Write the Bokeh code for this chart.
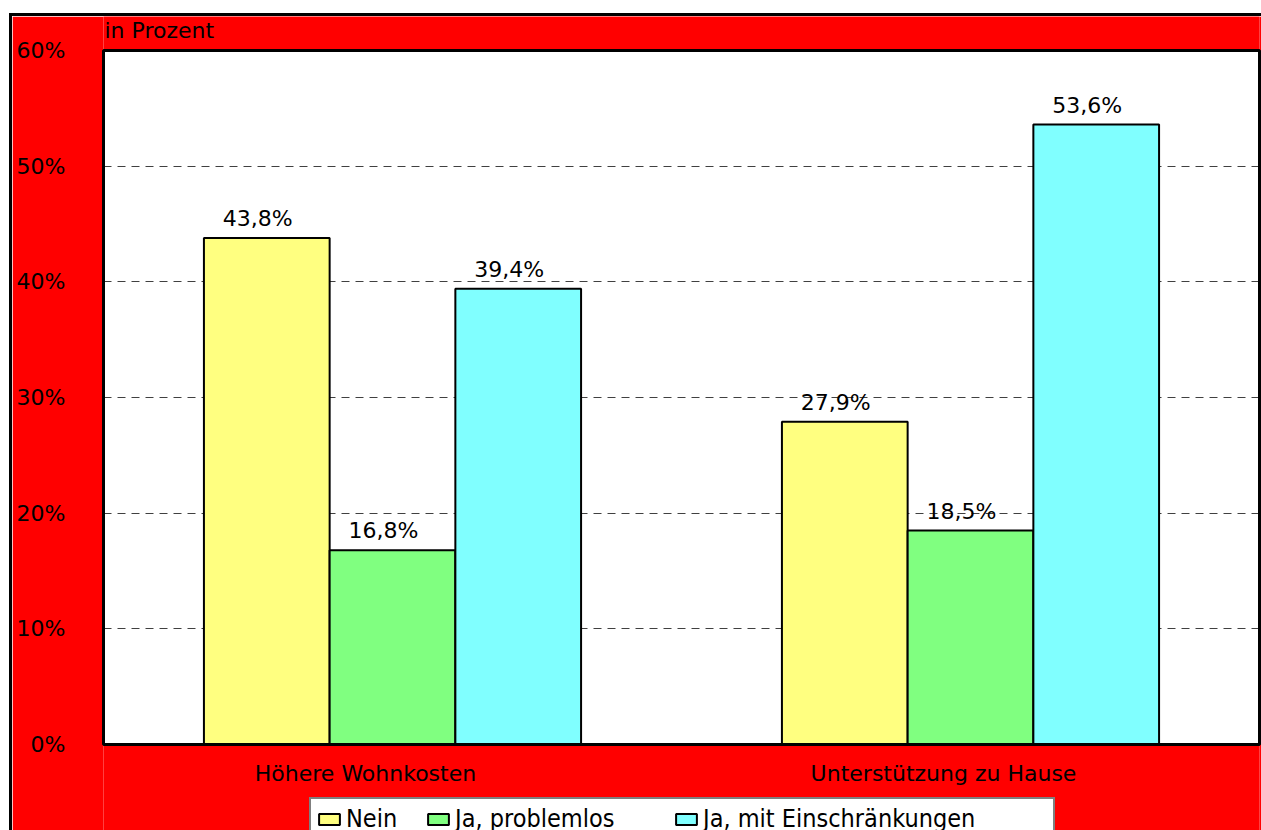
from bokeh.plotting import figure
from bokeh.models import (ColumnDataSource, FactorRange, Range1d, FixedTicker, Legend,
                          LegendItem)
from bokeh.transform import dodge
from bokeh.embed import file_html
from bokeh.resources import INLINE
from bokeh.core.properties import value

# ---- data ----
categories = ["Höhere Wohnkosten", "Unterstützung zu Hause"]
series = ["Nein", "Ja, problemlos", "Ja, mit Einschränkungen"]
nein = [43.8, 27.9]
ja_problemlos = [16.8, 18.5]
ja_einschraenkungen = [39.4, 53.6]
y_ticks = [0, 10, 20, 30, 40, 50, 60]
y_tick_labels = ["0%", "10%", "20%", "30%", "40%", "50%", "60%"]
unit_label = "in Prozent"
colors = ["#FFFF80", "#80FF80", "#80FFFF"]

FONT = "DejaVu Sans"
LEG_FONT = "DejaVu Sans Condensed"
fmt = lambda v: f"{v:.1f}%".replace(".", ",")

src = ColumnDataSource(dict(
    cat=categories,
    zero=[0, 0],
    nein=nein, ja_p=ja_problemlos, ja_e=ja_einschraenkungen,
    nein_lbl=[fmt(v) for v in nein],
    ja_p_lbl=[fmt(v) for v in ja_problemlos],
    ja_e_lbl=[fmt(v) for v in ja_einschraenkungen],
))

# plot area: 694 px for 0..60 %, a 34 px band above and an 86 px band below
PLOT_H, TOP_H, BAND_H = 694, 34, 86
y_max = y_ticks[-1]
y_lo = -BAND_H * y_max / PLOT_H
y_hi = y_max + TOP_H * y_max / PLOT_H
n_cat = len(categories)

p = figure(frame_width=1156, frame_height=PLOT_H + TOP_H + BAND_H,
           x_range=FactorRange(*categories, range_padding=0),
           y_range=Range1d(y_lo, y_hi), output_backend="svg", toolbar_location=None,
           min_border_left=91, min_border_top=0, min_border_right=2, min_border_bottom=0,
           background_fill_color="#FF0000", border_fill_color="#FF0000")
p.margin = (13, 0, 0, 9)
p.styles = {"border-top": "3px solid black", "border-left": "3px solid black"}
p.outline_line_color = None

# white plot area (0..60 %) with its black frame
p.quad(left=0, right=n_cat, bottom=0, top=y_max, fill_color="white", line_color=None,
       level="image")
p.quad(left=0, right=n_cat, bottom=0, top=y_max, fill_color=None, line_color="black",
       line_width=3, level="overlay")

bw = 0.2175
fields = ["nein", "ja_p", "ja_e"]
offs = [-bw, 0, bw]
renderers = []
for f, off, col in zip(fields, offs, colors):
    r = p.vbar(x=dodge("cat", off, range=p.x_range), top=f, width=bw, source=src,
               fill_color=col, line_color="black", line_width=2)
    renderers.append(r)
    p.text(x=dodge("cat", off, range=p.x_range), y=f, text=f + "_lbl", source=src,
           text_align="center", text_baseline="bottom", x_offset=-9, y_offset=-7,
           text_font=value(FONT), text_font_size="22px", text_color="black")

# category labels under the zero line
p.text(x="cat", y="zero", text="cat", source=src, x_offset=-27, y_offset=29,
       text_align="center", text_baseline="middle",
       text_font=value(FONT), text_font_size="22px", text_color="black")

# unit label above the plot area
p.text(x=[0], y=[y_max], text=[unit_label], x_offset=1, y_offset=-20,
       text_align="left", text_baseline="alphabetic",
       text_font=value(FONT), text_font_size="22px", text_color="black")

# axes
p.yaxis.ticker = FixedTicker(ticks=y_ticks)
p.yaxis.major_label_overrides = {t: l for t, l in zip(y_ticks, y_tick_labels)}
p.yaxis.major_label_text_font = FONT
p.yaxis.major_label_text_font_size = "22px"
p.yaxis.major_label_text_color = "black"
p.yaxis.major_label_standoff = 38
p.yaxis.major_tick_line_color = None
p.yaxis.major_tick_out = 0
p.yaxis.major_tick_in = 0
p.yaxis.minor_tick_line_color = None
p.yaxis.minor_tick_out = 0
p.yaxis.axis_line_color = None
p.xaxis.visible = False

p.xgrid.grid_line_color = None
p.ygrid.ticker = FixedTicker(ticks=y_ticks[1:-1])
p.ygrid.grid_line_color = "#404040"
p.ygrid.grid_line_dash = "8 6"
p.ygrid.grid_line_width = 1

# legend: boxed first item spanning the full legend width, other items overlaid
leg_common = dict(orientation="horizontal", padding=5, margin=0, spacing=0,
                  glyph_width=26, glyph_height=14, label_standoff=4,
                  label_text_font=LEG_FONT, label_text_font_size="25px",
                  label_text_color="black")
leg_pos = [(206, -10), (322, -3), (570, -3)]
for i, (name, r, pos) in enumerate(zip(series, renderers, leg_pos)):
    leg = Legend(items=[LegendItem(label=name, renderers=[r])], location=pos, **leg_common)
    if i == 0:
        leg.label_width = 702
        leg.border_line_color = "black"
        leg.border_line_width = 2
        leg.background_fill_color = "white"
        leg.background_fill_alpha = 1
    else:
        leg.border_line_color = None
        leg.background_fill_alpha = 0
    p.add_layout(leg, "center")

open("out.html", "w").write(file_html(p, INLINE))
